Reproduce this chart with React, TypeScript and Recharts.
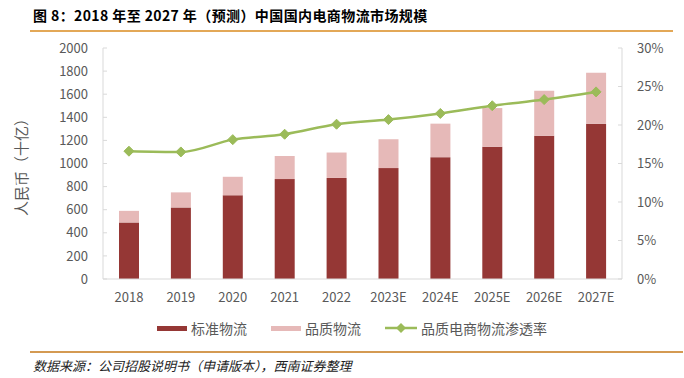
import React from 'react';
import { Bar, ComposedChart, Line, XAxis, YAxis } from 'recharts';

const years = ['2018', '2019', '2020', '2021', '2022', '2023E', '2024E', '2025E', '2026E', '2027E'];
const standardLogistics = [490, 620, 725, 865, 875, 960, 1055, 1145, 1240, 1345];
const qualityLogistics = [100, 130, 160, 200, 220, 250, 290, 335, 390, 440];
const penetrationRate = [16.6, 16.5, 18.1, 18.8, 20.1, 20.7, 21.5, 22.5, 23.3, 24.3];

const leftTicks = [0, 200, 400, 600, 800, 1000, 1200, 1400, 1600, 1800, 2000];
const rightTicks = [0, 5, 10, 15, 20, 25, 30];

const data = years.map((year, i) => ({
  year,
  standard: standardLogistics[i],
  quality: qualityLogistics[i],
  rate: penetrationRate[i],
}));

const DARK_RED = '#953735';
const PINK = '#E6B9B8';
const GREEN = '#9BBB59';
const TEXT = '#595959';
const AXIS = '#d9d9d9';
const FONT = '"Noto Sans CJK SC", "Noto Sans", sans-serif';

const Diamond = (props: any) => {
  const { cx, cy, index } = props;
  if (cx == null || cy == null) return <g key={index} />;
  const r = 5;
  return (
    <polygon
      key={index}
      points={`${cx},${cy - r} ${cx + r},${cy} ${cx},${cy + r} ${cx - r},${cy}`}
      fill={GREEN}
      stroke={GREEN}
    />
  );
};

const tickStyle = { fill: TEXT, fontSize: 13, fontFamily: FONT };

export default function App() {
  return (
    <div
      style={{
        position: 'absolute',
        left: 0,
        top: 0,
        width: 684,
        height: 378,
        background: '#fff',
        fontFamily: FONT,
        overflow: 'hidden',
      }}
    >
      <div
        style={{
          position: 'absolute',
          left: 33,
          top: 5,
          fontSize: 14,
          fontWeight: 700,
          letterSpacing: 0.4,
          color: '#000',
          whiteSpace: 'nowrap',
          lineHeight: '20px',
        }}
      >
        图 8：2018 年至 2027 年（预测）中国国内电商物流市场规模
      </div>
      <div style={{ position: 'absolute', left: 30, top: 30, width: 643, height: 1.5, background: '#E3A857' }} />

      <div style={{ position: 'absolute', left: 0, top: 0 }}>
        <ComposedChart
          width={684}
          height={345}
          data={data}
          margin={{ top: 48, right: 0, left: 0, bottom: 36 }}
          barSize={20}
        >
          <XAxis
            dataKey="year"
            height={30}
            tickLine={false}
            axisLine={{ stroke: AXIS }}
            tick={tickStyle}
            tickMargin={8}
            interval={0}
          />
          <YAxis
            yAxisId="left"
            width={103}
            domain={[0, 2000]}
            ticks={leftTicks}
            interval={0}
            axisLine={{ stroke: AXIS }}
            tickLine={{ stroke: AXIS }}
            tickSize={-4}
            tickMargin={19}
            tick={tickStyle}
            label={{
              value: '人民币（十亿）',
              angle: -90,
              position: 'insideLeft',
              offset: 22,
              style: { textAnchor: 'middle', fill: TEXT, fontSize: 15, fontFamily: FONT },
            }}
          />
          <YAxis
            yAxisId="right"
            orientation="right"
            width={62}
            domain={[0, 30]}
            ticks={rightTicks}
            interval={0}
            axisLine={{ stroke: AXIS }}
            tickLine={{ stroke: AXIS }}
            tickSize={-4}
            tickMargin={19}
            tick={tickStyle}
            tickFormatter={(v) => `${v}%`}
          />
          <Bar yAxisId="left" dataKey="standard" stackId="a" fill={DARK_RED} isAnimationActive={false} />
          <Bar yAxisId="left" dataKey="quality" stackId="a" fill={PINK} isAnimationActive={false} />
          <Line
            yAxisId="right"
            dataKey="rate"
            type="monotone"
            stroke={GREEN}
            strokeWidth={2.5}
            dot={Diamond}
            activeDot={false}
            isAnimationActive={false}
          />
        </ComposedChart>
      </div>

      <div
        style={{
          position: 'absolute',
          top: 318,
          left: 157,
          height: 20,
          display: 'flex',
          alignItems: 'center',
          fontSize: 14,
          color: TEXT,
          whiteSpace: 'nowrap',
        }}
      >
        <span style={{ width: 30, height: 5, background: DARK_RED, marginRight: 4 }} />
        <span style={{ marginRight: 24 }}>标准物流</span>
        <span style={{ width: 30, height: 5, background: PINK, marginRight: 4 }} />
        <span style={{ marginRight: 24 }}>品质物流</span>
        <svg width={32} height={12} style={{ marginRight: 4 }}>
          <line x1={0} y1={6} x2={32} y2={6} stroke={GREEN} strokeWidth={2.5} />
          <polygon points="16,1 21,6 16,11 11,6" fill={GREEN} />
        </svg>
        <span>品质电商物流渗透率</span>
      </div>

      <div style={{ position: 'absolute', left: 30, top: 351, width: 653, height: 1.5, background: '#D49A52' }} />
      <div
        style={{
          position: 'absolute',
          left: 33,
          top: 357,
          fontSize: 13,
          fontStyle: 'italic',
          color: '#222',
          whiteSpace: 'nowrap',
          lineHeight: '18px',
        }}
      >
        数据来源：公司招股说明书（申请版本），西南证券整理
      </div>
    </div>
  );
}
